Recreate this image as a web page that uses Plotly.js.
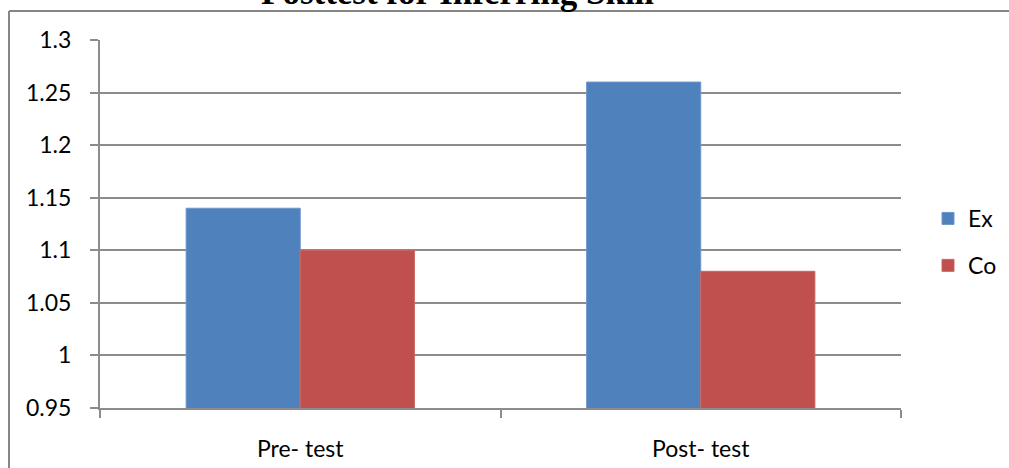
<!DOCTYPE html>
<html>
<head>
<meta charset="utf-8">
<script src="https://cdn.plot.ly/plotly-3.0.1.min.js"></script>
<style>
  html, body { margin: 0; padding: 0; background: #fff; }
  #chart { width: 1009px; height: 468px; }
</style>
</head>
<body>
<div id="chart"></div>
<script>
// Mean inferring-skill scores, pretest vs posttest
const categories = ["Pre- test", "Post- test"];
const exScores = [1.14, 1.26];
const coScores = [1.10, 1.08];
const seriesNames = ["Ex", "Co"];
const yTicks = [0.95, 1, 1.05, 1.1, 1.15, 1.2, 1.25, 1.3];
const yTickText = ["0.95", "1", "1.05", "1.1", "1.15", "1.2", "1.25", "1.3"];
const chartTitle = "Posttest for Inferring Skill";

const W = 1009, H = 468;
const margin = { l: 100, r: 108, t: 40, b: 60, autoexpand: false };
const plotW = W - margin.l - margin.r;
const plotH = H - margin.t - margin.b;
// pixel -> paper helpers for the frame and title placement
const px = x => (x - margin.l) / plotW;
const py = y => (H - margin.b - y) / plotH;

const labelFont = { family: "Lato, 'Open Sans', sans-serif", size: 23, color: "#000" };
const gridGrey = "#8c8c8c";

const traces = [
  {
    type: "bar", name: seriesNames[0], x: categories, y: exScores,
    marker: { color: "#4F81BD", line: { color: "#6C97CB", width: 1 } },
    legendgroup: "a", hoverinfo: "x+y+name"
  },
  {
    type: "bar", name: seriesNames[1], x: categories, y: coScores,
    marker: { color: "#C0504D", line: { color: "#C86662", width: 1 } },
    legendgroup: "b", hoverinfo: "x+y+name"
  }
];

const layout = {
  width: W, height: H,
  margin: margin,
  paper_bgcolor: "#fff", plot_bgcolor: "#fff",
  barmode: "group", bargap: 0.43, bargroupgap: 0,
  font: labelFont,
  showlegend: true,
  legend: {
    xref: "container", yref: "container",
    x: 928 / W, xanchor: "left",
    y: 1 - 242 / H, yanchor: "middle",
    font: labelFont,
    tracegroupgap: 14,
    bgcolor: "rgba(0,0,0,0)"
  },
  xaxis: {
    type: "category",
    automargin: false,
    showgrid: false,
    showline: true, linecolor: gridGrey, linewidth: 2,
    ticks: "outside", tickson: "boundaries", ticklen: 8, tickwidth: 2, tickcolor: gridGrey,
    tickfont: labelFont,
    ticklabelstandoff: 19,
    zeroline: false, fixedrange: true
  },
  yaxis: {
    range: [0.95, 1.3],
    automargin: false,
    tickmode: "array", tickvals: yTicks, ticktext: yTickText,
    showgrid: true, gridcolor: gridGrey, gridwidth: 2,
    showline: true, linecolor: gridGrey, linewidth: 2,
    ticks: "outside", ticklen: 8, tickwidth: 2, tickcolor: gridGrey,
    tickfont: labelFont,
    ticklabelstandoff: 14,
    zeroline: false, fixedrange: true
  },
  annotations: [
    {
      text: "<b>" + chartTitle + "</b>",
      xref: "paper", yref: "paper",
      x: px(457), y: py(14),
      xanchor: "center", yanchor: "bottom",
      showarrow: false,
      font: { family: "'Liberation Serif', 'Times New Roman', serif", size: 35, color: "#000" }
    }
  ],
  shapes: [
    // outer frame: left and top edges
    { type: "line", xref: "paper", yref: "paper", x0: px(9), x1: px(9), y0: py(470), y1: py(11),
      line: { color: "#868686", width: 2 } },
    { type: "line", xref: "paper", yref: "paper", x0: px(9), x1: px(1012), y0: py(11), y1: py(11),
      line: { color: "#868686", width: 2 } }
  ]
};

Plotly.newPlot("chart", traces, layout, { displayModeBar: false, staticPlot: true });
</script>
</body>
</html>
